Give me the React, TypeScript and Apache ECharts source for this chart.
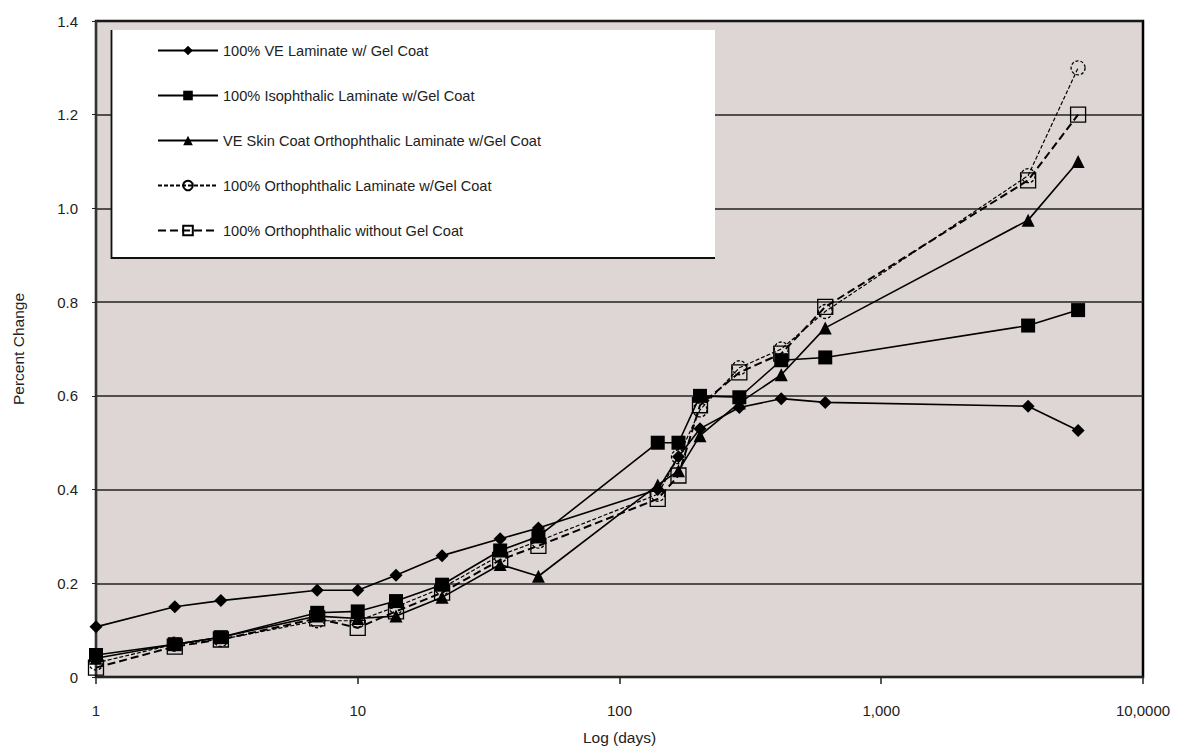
import React, { useEffect, useRef } from "react";
import * as echarts from "echarts";

const days = [1, 2, 3, 7, 10, 14, 21, 35, 49, 140, 168, 203, 287, 415, 611, 3640, 5650];

const veLaminate = [0.107, 0.15, 0.163, 0.185, 0.185, 0.217, 0.259, 0.295, 0.318, 0.4, 0.47, 0.53, 0.575, 0.594, 0.586, 0.578, 0.526];
const isoLaminate = [0.047, 0.07, 0.085, 0.137, 0.14, 0.162, 0.197, 0.27, 0.3, 0.5, 0.5, 0.6, 0.597, 0.676, 0.682, 0.75, 0.783];
const veSkinOrtho = [0.04, 0.07, 0.085, 0.13, 0.125, 0.13, 0.17, 0.24, 0.215, 0.41, 0.44, 0.515, 0.585, 0.645, 0.745, 0.975, 1.1];
const orthoGel = [0.03, 0.07, 0.08, 0.12, 0.12, 0.15, 0.19, 0.26, 0.29, 0.39, 0.47, 0.57, 0.66, 0.7, 0.78, 1.07, 1.3];
const orthoNoGel = [0.02, 0.065, 0.08, 0.125, 0.105, 0.14, 0.18, 0.25, 0.28, 0.38, 0.43, 0.58, 0.65, 0.69, 0.79, 1.06, 1.2];

const seriesNames = [
  "100% VE Laminate w/ Gel Coat",
  "100% Isophthalic Laminate w/Gel Coat",
  "VE Skin Coat Orthophthalic Laminate w/Gel Coat",
  "100% Orthophthalic Laminate w/Gel Coat",
  "100% Orthophthalic without Gel Coat",
];

const xTickLabels: Record<number, string> = { 1: "1", 10: "10", 100: "100", 1000: "1,000", 10000: "10,0000" };

const FONT = "'Liberation Sans', Arial, sans-serif";

function pairs(vals: number[]) {
  return days.map((d, i) => [d, vals[i]]);
}

export default function App() {
  const ref = useRef<HTMLDivElement>(null);
  useEffect(() => {
    document.body.style.margin = "0";
    const chart = echarts.init(ref.current!, null, { renderer: "svg" });
    const mk = (name: string, vals: number[], symbol: string, size: number, lineType: any, width: number, hollow = false, dashedMarker = false) => ({
      name,
      type: "line",
      data: pairs(vals),
      symbol,
      symbolSize: size,
      showSymbol: true,
      lineStyle: { color: "#000", width, type: lineType },
      itemStyle: hollow
        ? {
            color: "rgba(222,214,212,0)",
            borderColor: "#000",
            borderWidth: 1.3,
            borderType: dashedMarker ? [3, 2] : "solid",
          }
        : { color: "#000", borderWidth: 0 },
      z: 5,
    });
    chart.setOption({
      animation: false,
      backgroundColor: "#fff",
      textStyle: { fontFamily: FONT },
      grid: {
        left: 96,
        right: 34,
        top: 21,
        bottom: 71,
        show: true,
        backgroundColor: "#ded6d4",
        borderColor: "#000",
        borderWidth: 2.5,
      },
      xAxis: {
        type: "log",
        logBase: 10,
        min: 1,
        max: 10000,
        name: "Log (days)",
        nameLocation: "middle",
        nameGap: 52,
        nameTextStyle: { fontSize: 15.5, color: "#222", fontFamily: FONT },
        axisLine: { show: true, lineStyle: { color: "#222", width: 2 } },
        axisTick: { show: true, length: 7, lineStyle: { color: "#222", width: 1.5 } },
        axisLabel: {
          margin: 26,
          fontSize: 15,
          color: "#222",
          fontFamily: FONT,
          formatter: (v: number) => xTickLabels[Math.round(v)] ?? "",
        },
        splitLine: { show: false },
        minorTick: { show: false },
      },
      yAxis: {
        type: "value",
        min: 0,
        max: 1.4,
        interval: 0.2,
        name: "Percent Change",
        nameLocation: "middle",
        nameGap: 70,
        nameRotate: 90,
        nameTextStyle: { fontSize: 15.5, color: "#222", fontFamily: FONT },
        axisLine: { show: true, lineStyle: { color: "#333", width: 2 } },
        axisTick: { show: true, length: 4, lineStyle: { color: "#222" } },
        axisLabel: {
          margin: 18,
          fontSize: 15,
          color: "#222",
          fontFamily: FONT,
          formatter: (v: number) => (v === 0 ? "0" : v.toFixed(1)),
        },
        splitLine: { show: true, lineStyle: { color: "#222", width: 1.5 } },
      },
      legend: {
        orient: "vertical",
        left: 152,
        top: 38,
        itemWidth: 60,
        itemHeight: 12,
        itemGap: 30,
        z: 20,
        textStyle: { fontSize: 14.6, color: "#222", fontFamily: FONT },
        data: seriesNames,
      },
      graphic: [
        {
          type: "rect",
          z: 10,
          shape: { x: 111, y: 30, width: 604, height: 228 },
          style: { fill: "#fff" },
        },
        {
          type: "polyline",
          z: 11,
          shape: { points: [[111.5, 30], [111.5, 258], [715, 258]] },
          style: { stroke: "#111", lineWidth: 1.8, fill: "none" },
        },
      ],
      series: [
        mk(seriesNames[0], veLaminate, "diamond", 13, "solid", 1.6),
        mk(seriesNames[1], isoLaminate, "rect", 14, "solid", 1.6),
        mk(seriesNames[2], veSkinOrtho, "triangle", 13, "solid", 1.6),
        mk(seriesNames[3], orthoGel, "circle", 14, [4, 2], 1.2, true, true),
        mk(seriesNames[4], orthoNoGel, "rect", 15, [8, 4], 2, true),
      ],
    });
    return () => chart.dispose();
  }, []);
  return <div ref={ref} style={{ width: 1177, height: 750 }} />;
}
